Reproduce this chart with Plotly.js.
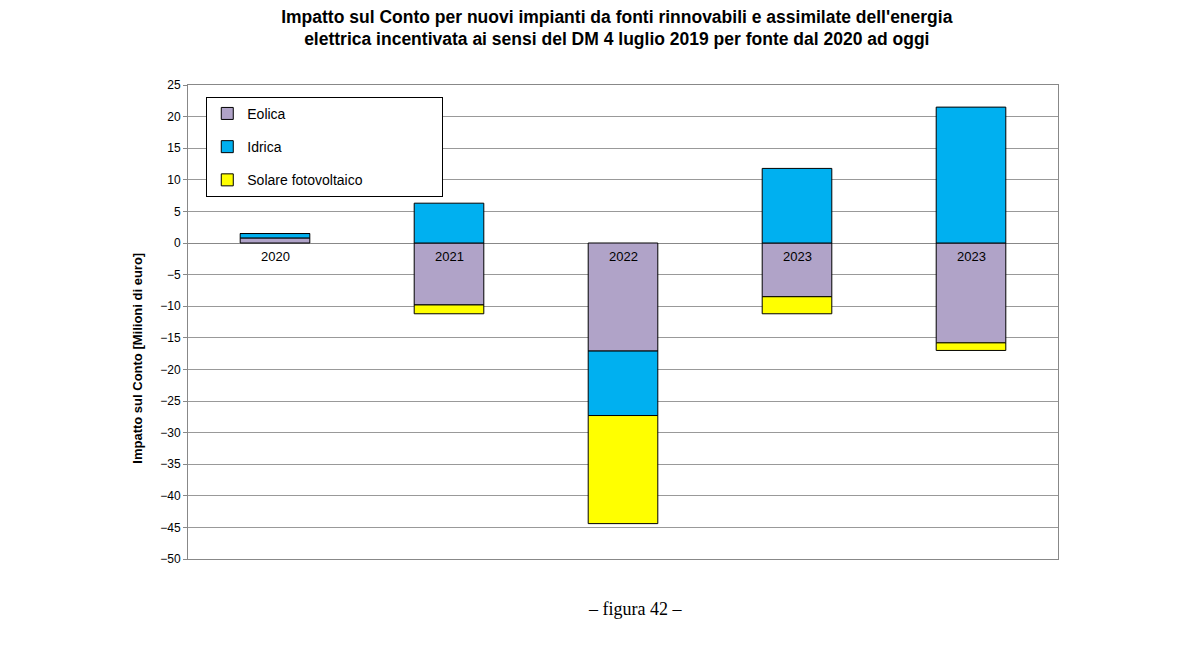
<!DOCTYPE html>
<html><head><meta charset="utf-8">
<script src="https://cdn.plot.ly/plotly-3.0.1.min.js"></script>
<style>body{margin:0;background:#fff}</style></head>
<body><div id="c" style="width:1200px;height:648px"></div>
<script>
const categories = ["2020","2021","2022","2023","2023"];
const eolica = [0.8, -9.8, -17.1, -8.5, -15.8];
const idrica = [0.7, 6.3, -10.2, 11.8, 21.5];
const solare = [0, -1.4, -17.1, -2.7, -1.2];
const idx = categories.map((_, i) => i);
const pad = '&nbsp;'.repeat(22);
const common = {type:'bar', x:idx, width:0.4};
const data = [
  Object.assign({}, common, {name:'Eolica'+pad+'&nbsp;'.repeat(17), legendgroup:'e', y:eolica, marker:{color:'#b0a3c8', line:{color:'#000',width:1}}}),
  Object.assign({}, common, {name:'Idrica'+pad, legendgroup:'i', y:idrica, marker:{color:'#00b0f0', line:{color:'#000',width:1}}}),
  Object.assign({}, common, {name:'Solare fotovoltaico', legendgroup:'s', y:solare, marker:{color:'#ffff00', line:{color:'#000',width:1}}})
];
const layout = {
  barmode:'relative', bargap:0.6,
  margin:{l:188, r:142, t:85, b:89},
  paper_bgcolor:'#fff', plot_bgcolor:'#fff',
  font:{family:'Liberation Sans, Arial, sans-serif', size:13, color:'#000'},
  title:{text:"<b>Impatto sul Conto per nuovi impianti da fonti rinnovabili e assimilate dell'energia<br>elettrica incentivata ai sensi del DM 4 luglio 2019 per fonte dal 2020 ad oggi</b>",
    x:0.514, xanchor:'center', y:0.965, yanchor:'top', font:{size:17.5}},
  xaxis:{range:[-0.5,4.5], showticklabels:false, ticks:'', showgrid:false, zeroline:false,
    showline:true, mirror:true, linecolor:'#888'},
  yaxis:{range:[-50,25], dtick:5, showgrid:true, gridcolor:'#999', zeroline:true, zerolinecolor:'#888',
    showline:true, mirror:true, linecolor:'#888', ticks:'outside', ticklen:4, tickcolor:'#888',
    tickfont:{size:12}},
  showlegend:true,
  legend:{traceorder:'reversed+grouped', x:0.021, y:0.975, xanchor:'left', yanchor:'top',
    bordercolor:'#000', borderwidth:1, bgcolor:'#fff', font:{size:14},
    tracegroupgap:12, itemwidth:30},
  annotations: categories.map((c,i)=>({x:i, y:0, xref:'x', yref:'y', text:c, showarrow:false,
      yanchor:'top', yshift:-4, font:{size:13}})).concat([
    {xref:'paper', yref:'paper', x:-0.059, y:0.424, text:'<b>Impatto sul Conto [Milioni di euro]</b>',
     textangle:-90, showarrow:false, xanchor:'center', yanchor:'middle', font:{size:13}},
    {xref:'paper', yref:'paper', x:0.514, y:-0.105, text:'– figura 42 –', showarrow:false,
     yanchor:'middle', font:{family:'Liberation Serif, DejaVu Serif, serif', size:18}}])
};
Plotly.newPlot('c', data, layout, {displayModeBar:false});
</script></body></html>
